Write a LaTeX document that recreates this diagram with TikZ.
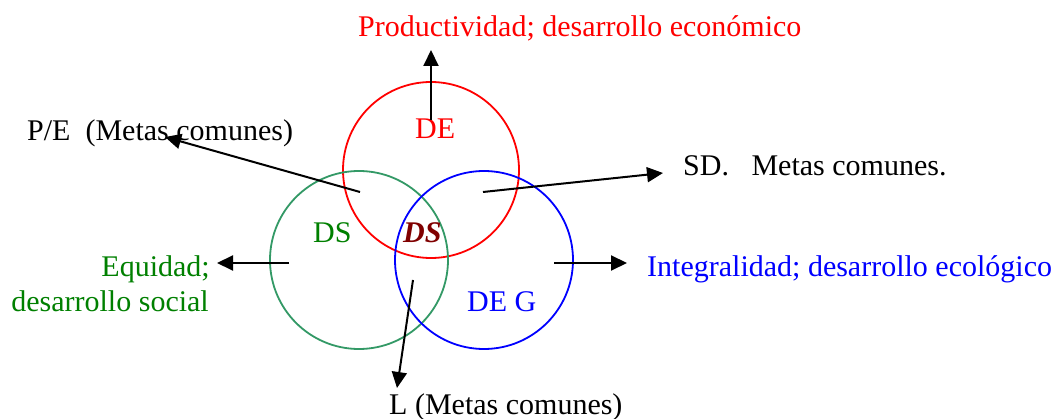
\documentclass[tikz,border=0pt]{standalone}
\usepackage{fontspec}
\setmainfont{Liberation Serif}
\usetikzlibrary{arrows.meta}
\definecolor{circgreen}{RGB}{51,153,102}
\definecolor{txtgreen}{RGB}{0,128,0}
\definecolor{dsred}{RGB}{128,0,0}
\begin{document}
\begin{tikzpicture}[x=1pt,y=-1pt,
  lbl/.style={inner sep=0pt,anchor=base west,font=\fontsize{30}{34}\selectfont},
  ring/.style={line width=1.8pt},
  arr/.style={line width=2pt,-{Triangle[length=16pt,width=15pt]}}]
\useasboundingbox[fill=white] (0,0) rectangle (1054,419);
% circles
\draw[ring,red] (431,170) circle (88);
\draw[ring,circgreen] (359,260) circle (89);
\draw[ring,blue] (484,260) circle (89);
% labels
\node[lbl,red] (prod) at (358,37) {Productividad; desarrollo económico};
\node[lbl,red] (de) at (415,139) {DE};
\node[lbl] (pe) at (27,141) {P/E\ \ (Metas comunes)};
\node[lbl] (sd) at (683,176) {SD.\ \ \ Metas comunes.};
\node[lbl,txtgreen] (dsg) at (313,243) {DS};
\node[lbl,dsred,font=\fontsize{30}{34}\selectfont\bfseries\itshape] (dsc) at (403,243) {DS};
\node[lbl,txtgreen,anchor=base east] (eq1) at (210,277) {Equidad;};
\node[lbl,txtgreen,anchor=base east] (eq2) at (209,312) {desarrollo social};
\node[lbl,blue] (integ) at (647,277) {Integralidad; desarrollo ecológico};
\node[lbl,blue] (deg) at (467,312) {DE G};
\node[lbl] (lm) at (389,414) {L (Metas comunes)};
% arrow coordinates
\coordinate (a1s) at (431,120); \coordinate (a1e) at (431,50);
\coordinate (a2s) at (360,192); \coordinate (a2e) at (165,137);
\coordinate (a3s) at (483,192); \coordinate (a3e) at (663,173);
\coordinate (a4s) at (289,263); \coordinate (a4e) at (217,263);
\coordinate (a5s) at (554,263); \coordinate (a5e) at (627,263);
\coordinate (a6s) at (413,280); \coordinate (a6e) at (397,388);
\draw[arr] (a1s) -- (a1e);
\draw[arr] (a2s) -- (a2e);
\draw[arr] (a3s) -- (a3e);
\draw[arr] (a4s) -- (a4e);
\draw[arr] (a5s) -- (a5e);
\draw[arr] (a6s) -- (a6e);
\end{tikzpicture}
\end{document}
